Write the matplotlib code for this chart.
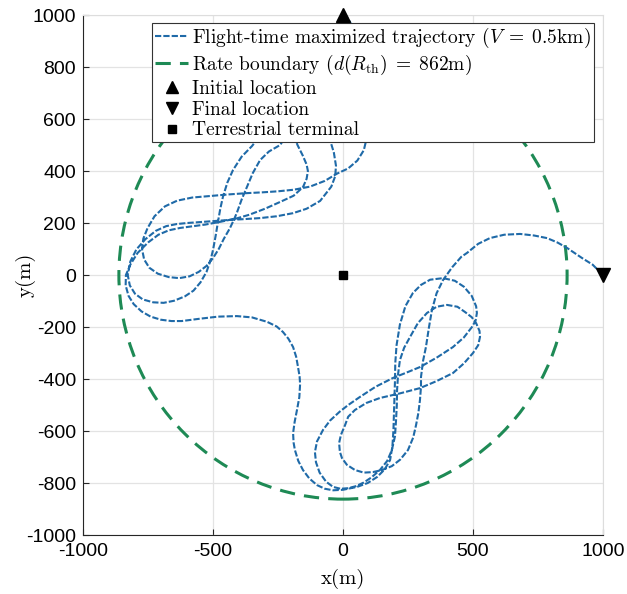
import numpy as np
import matplotlib.pyplot as plt
from matplotlib.patches import Circle
from matplotlib.lines import Line2D

plt.rcParams['mathtext.fontset'] = 'cm'
plt.rcParams['axes.unicode_minus'] = False

# trajectory waypoints (m)
traj_x = [0, 20, 40, 58, 72, 84, 92, 95, 92, 80, 55, 20, -23, -70, -127, -190, -250, -310, -369,
          -440, -512, -580, -638, -685, -725, -752, -768, -773, -765, -745, -712, -670, -630, -590,
          -555, -525, -500, -478, -458, -435, -420, -408, -390, -369, -347, -319, -285, -242,
          -215, -180, -140, -100, -70, -50, -35, -27, -30, -45, -88, -140, -192, -255, -319, -380,
          -435, -490, -550, -600, -640, -680, -720, -760, -795, -818, -828, -820, -800, -770, -730,
          -690, -650, -608, -575, -548, -525, -510, -500, -490, -481, -472, -462, -445, -423, -390,
          -350, -320, -285, -250, -215, -190, -175, -155, -140, -135, -140, -154, -190, -242, -300,
          -360, -408, -470, -530, -590, -627, -670, -710, -750, -790, -818, -835, -836, -825, -805,
          -775, -740, -700, -660, -620, -550, -480, -408, -350, -292, -255, -231, -210, -192, -180,
          -173, -167, -165, -168, -177, -186, -192, -190, -185, -172, -154, -130, -100, -70, -38,
          0, 54, 95, 131, 160, 181, 190, 194, 197, 200, 201, 206, 219, 240, 269, 300, 335, 385,
          430, 465, 495, 512, 515, 510, 496, 465, 423, 360, 296, 240, 192, 125, 65, 20, -12, -50,
          -77, -100, -108, -104, -90, -65, -38, -10, 20, 50, 80, 110, 142, 170, 188, 200, 204, 207,
          208, 212, 219, 235, 258, 288, 323, 360, 400, 440, 469, 495, 512, 525, 527, 520, 500, 465,
          423, 360, 296, 220, 142, 90, 46, 20, 8, -8, -15, -12, -4, 15, 46, 80, 115, 150, 188, 220,
          250, 270, 281, 290, 296, 300, 300, 308, 319, 330, 342, 360, 385, 420, 455, 477, 520, 565,
          620, 681, 735, 785, 825, 862, 920, 960, 1000]
traj_y = [1000, 985, 950, 890, 820, 740, 660, 590, 530, 480, 440, 410, 390, 362, 340, 328, 322, 318, 315,
          310, 304, 298, 286, 264, 226, 180, 140, 100, 60, 28, 5, -8, -12, -5,
          12, 35, 65, 100, 140, 180, 212, 240, 290, 340, 392, 442, 475, 500,
          540, 580, 600, 590, 560, 520, 470, 420, 380, 340, 285, 255, 238, 226, 219, 215,
          212, 208, 204, 200, 196, 188, 170, 138, 98, 52, 0, -40, -72, -94, -105,
          -107, -99, -82, -60, -28, 12, 55, 96, 150, 204, 255, 300, 355, 404, 455,
          496, 535, 568, 580, 568, 540, 500, 460, 425, 400, 370, 338, 305, 281, 255,
          232, 218, 205, 194, 186, 181, 172, 155, 125, 85, 40, 0, -40, -80, -112,
          -140, -160, -172, -177, -177, -168, -160, -158, -163, -180, -198, -219, -245, -277, -315,
          -354, -390, -420, -470, -519, -565, -608, -645, -673, -715, -750, -782, -808, -822, -828,
          -826, -815, -800, -777, -748, -712, -660, -596, -500, -404, -340, -270, -190, -120, -69, -38, -18, -12,
          -22, -45, -80, -120, -146, -175, -200, -240, -277, -318, -354, -377, -396, -430, -469, -500, -525, -560,
          -596, -640, -681, -720, -760, -795, -815, -822, -820, -812, -798, -778, -750, -715, -673, -620, -558, -500,
          -442, -380, -327, -280, -238, -185, -146, -122, -115, -122, -142, -162, -185, -215, -238, -270, -300, -340,
          -377, -408, -435, -455, -473, -492, -519, -545, -577, -615, -646, -680, -704, -730, -750, -760, -758, -750, -735, -710,
          -673, -625, -577, -530, -481, -430, -392, -330, -277, -205, -135, -70, -19, 30, 70, 85, 120, 142,
          155, 158, 152, 142, 125, 104, 65, 40, 0]

d_th = 862
start = (0, 1000)
final = (1000, 0)
terminal = (0, 0)

blue = '#1f6aa8'
green = '#1e8a55'
traj_ls = (0, (3, 1))
bound_ls = (0, (5, 3))

fig = plt.figure(figsize=(6.27, 5.94), dpi=100)
ax = fig.add_axes([0.1324, 0.0993, 0.8293, 0.8754])

ax.plot(traj_x, traj_y, color=blue, lw=1.5, linestyle=traj_ls, zorder=3)
ax.add_patch(Circle((0, 0), d_th, fill=False, edgecolor=green, lw=2.2,
                    linestyle=bound_ls, zorder=2))
ax.plot(*start, marker='^', color='k', ms=10, clip_on=False, zorder=6, ls='none')
ax.plot(*final, marker='v', color='k', ms=10, clip_on=False, zorder=6, ls='none')
ax.plot(*terminal, marker='s', color='k', ms=6, zorder=6, ls='none')

ax.set_xlim(-1000, 1000)
ax.set_ylim(-1000, 1000)
ax.set_xticks(np.arange(-1000, 1001, 500))
ax.set_yticks(np.arange(-1000, 1001, 200))
ax.grid(True, color='#e3e3e3', lw=0.9)
ax.set_axisbelow(True)
ax.tick_params(direction='in', length=4, labelsize=14, color='#262626')
ax.tick_params(axis='x', pad=6)
ax.tick_params(axis='y', pad=5)
for lab in ax.get_xticklabels() + ax.get_yticklabels():
    lab.set_fontfamily('Liberation Sans')
ax.spines['left'].set_color('#262626')
ax.spines['bottom'].set_color('#262626')
ax.spines['top'].set_color('#dddddd')
ax.spines['right'].set_color('#dddddd')

ax.set_xlabel('x(m)', family='cmr10', fontsize=15)
ax.set_ylabel('y(m)', family='cmr10', fontsize=15)
ax.xaxis.set_label_coords(0.5, -0.065)
ax.yaxis.set_label_coords(-0.092, 0.5)

handles = [
    Line2D([], [], color=blue, lw=1.5, linestyle=traj_ls),
    Line2D([], [], color=green, lw=2.2, linestyle=bound_ls),
    Line2D([], [], color='k', marker='^', ms=9, ls='none'),
    Line2D([], [], color='k', marker='v', ms=9, ls='none'),
    Line2D([], [], color='k', marker='s', ms=6, ls='none'),
]
labels = [
    r'Flight-time maximized trajectory ($V\;=\;0.5$km)',
    r'Rate boundary ($d(R_{\rm th})\;=\;862$m)',
    'Initial location',
    'Final location',
    'Terrestrial terminal',
]
leg = ax.legend(handles, labels, loc='upper right', bbox_to_anchor=(0.983, 0.985),
                prop={'family': 'cmr10', 'size': 14}, fancybox=False, framealpha=1,
                edgecolor='#333333', handlelength=1.7, handletextpad=0.2,
                borderpad=0.15, labelspacing=0.15, borderaxespad=0)
leg.get_frame().set_linewidth(0.8)
leg.set_zorder(5)

fig.savefig('out.png', dpi=100)
